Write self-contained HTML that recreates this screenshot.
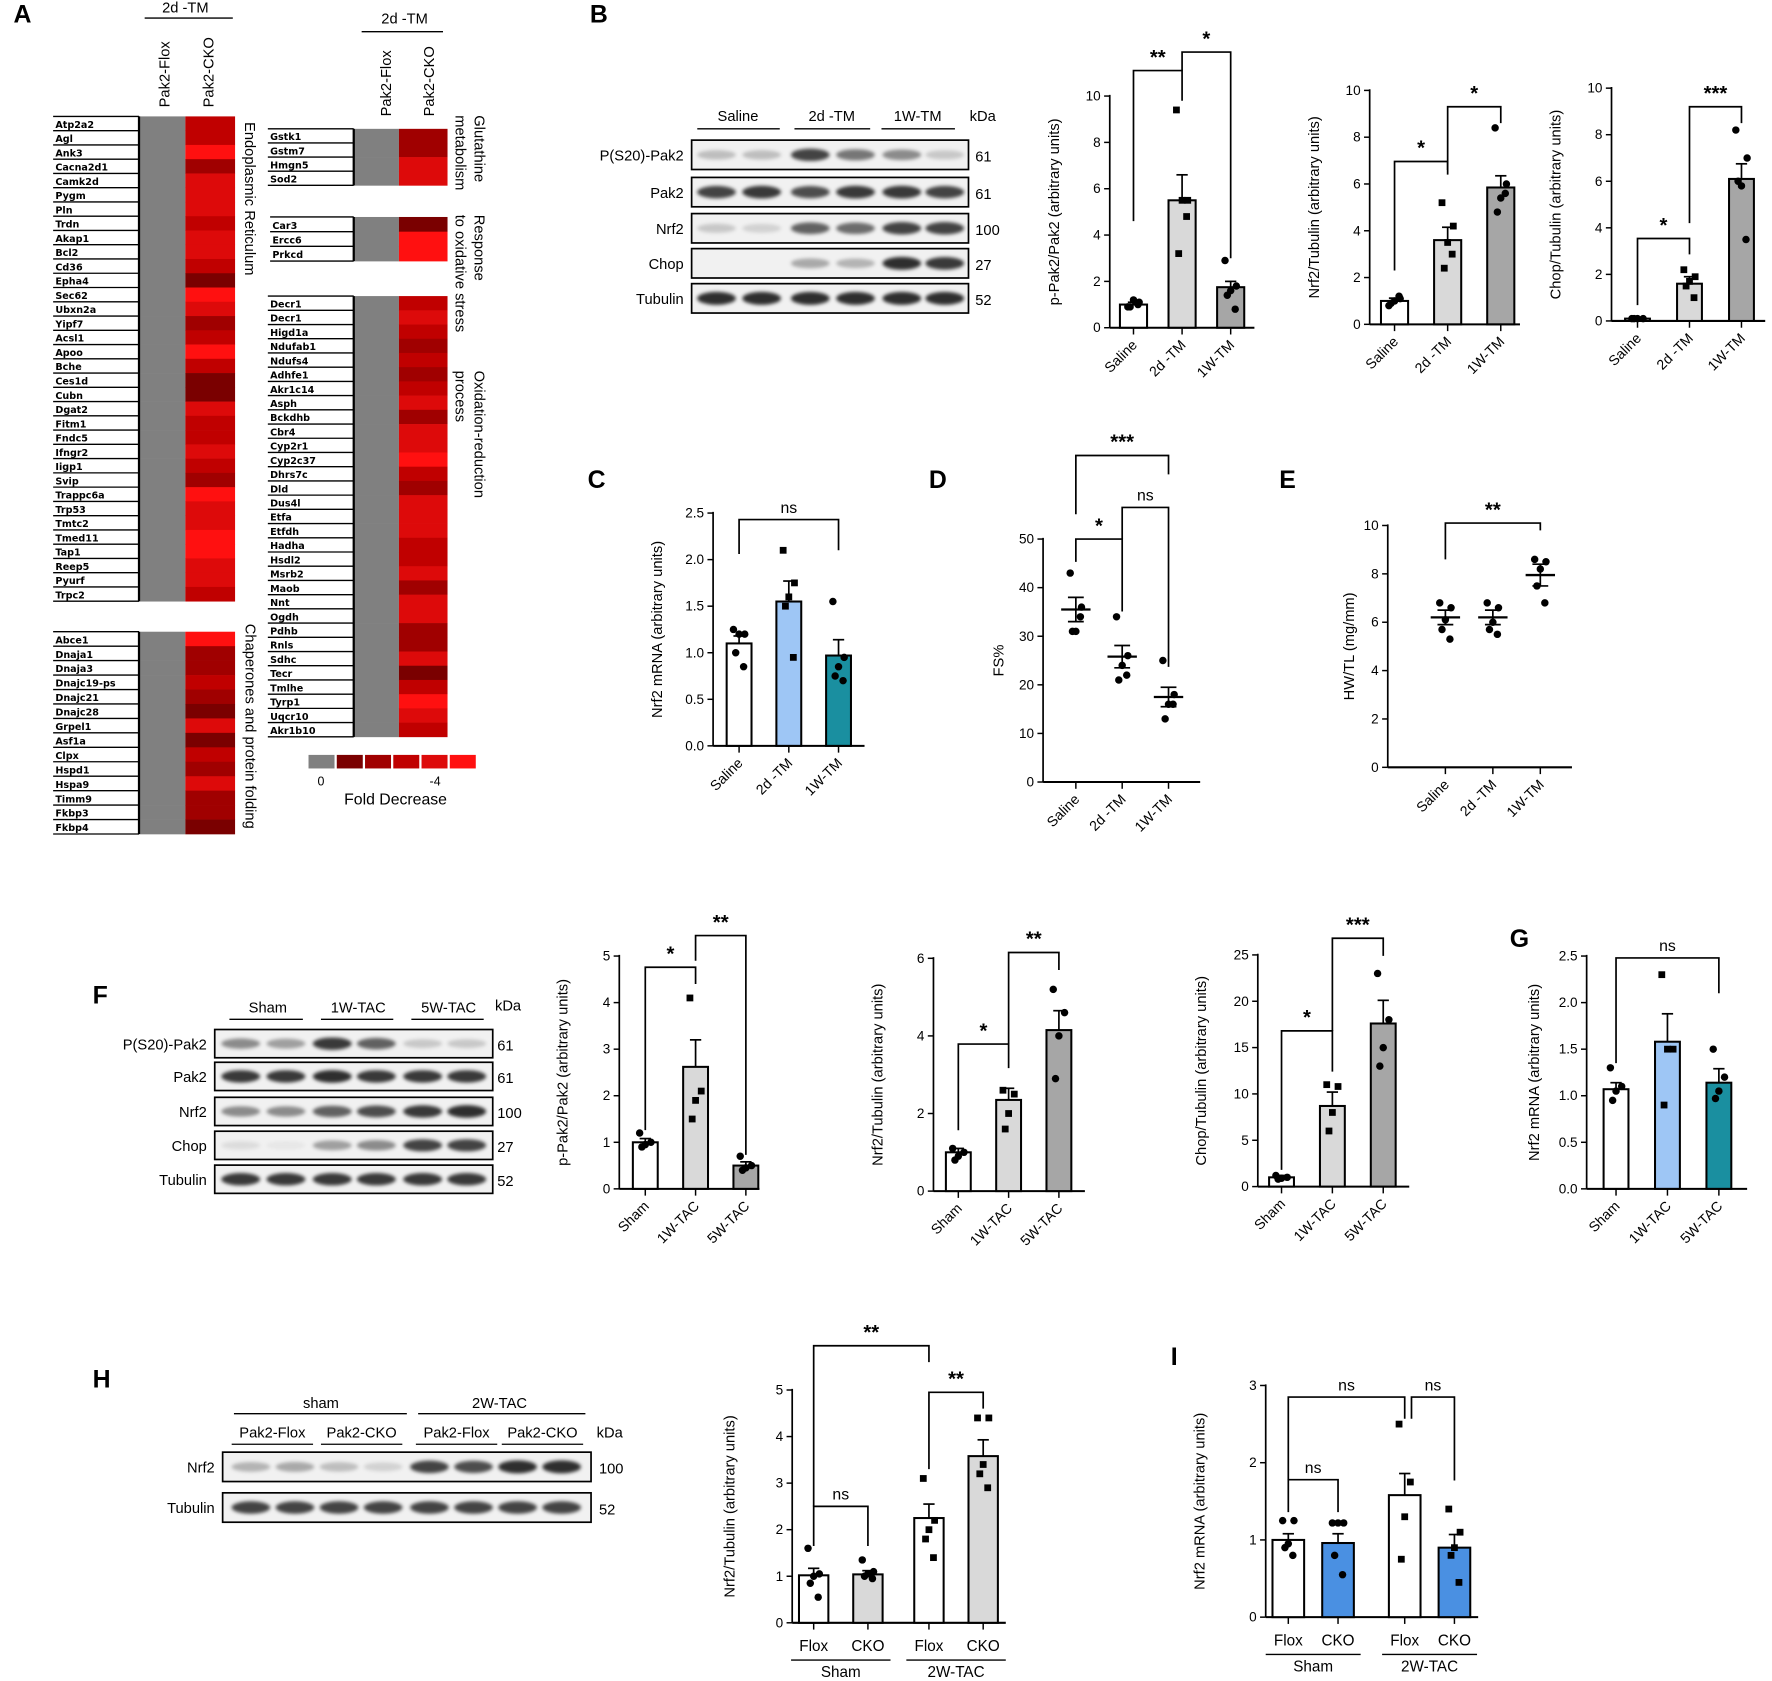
<!DOCTYPE html>
<html><head><meta charset="utf-8">
<style>
html,body{margin:0;padding:0;background:#fff;}
svg{display:block;font-family:"Liberation Sans",Arial,sans-serif;}
</style></head>
<body>
<svg id="fig" width="1772" height="1681" viewBox="0 0 1568 1487.5" xmlns="http://www.w3.org/2000/svg">
<defs><filter id="blur" x="-30%" y="-80%" width="160%" height="260%"><feGaussianBlur stdDeviation="1.6"/></filter></defs>
</svg>
<script>
// ---------- DATA ----------
const heatPalette = ['#7a0000','#a00000','#c00000','#dd0a0a','#ff1010'];
const erGenes = ['Atp2a2','Agl','Ank3','Cacna2d1','Camk2d','Pygm','Pln','Trdn','Akap1','Bcl2','Cd36','Epha4','Sec62','Ubxn2a','Yipf7','Acsl1','Apoo','Bche','Ces1d','Cubn','Dgat2','Fitm1','Fndc5','Ifngr2','Iigp1','Svip','Trappc6a','Trp53','Tmtc2','Tmed11','Tap1','Reep5','Pyurf','Trpc2'];
const erLevels = [2,2,4,1,3,3,3,2,3,3,2,0,4,3,1,2,4,2,0,0,3,2,2,3,2,1,4,3,3,4,4,3,3,2];
const chGenes = ['Abce1','Dnaja1','Dnaja3','Dnajc19-ps','Dnajc21','Dnajc28','Grpel1','Asf1a','Clpx','Hspd1','Hspa9','Timm9','Fkbp3','Fkbp4'];
const chLevels = [4,1,1,2,1,0,3,0,2,1,3,1,1,0];
const glGenes = ['Gstk1','Gstm7','Hmgn5','Sod2'];
const glLevels = [1,1,3,3];
const rsGenes = ['Car3','Ercc6','Prkcd'];
const rsLevels = [0,4,4];
const oxGenes = ['Decr1','Decr1','Higd1a','Ndufab1','Ndufs4','Adhfe1','Akr1c14','Asph','Bckdhb','Cbr4','Cyp2r1','Cyp2c37','Dhrs7c','Dld','Dus4l','Etfa','Etfdh','Hadha','Hsdl2','Msrb2','Maob','Nnt','Ogdh','Pdhb','Rnls','Sdhc','Tecr','Tmlhe','Tyrp1','Uqcr10','Akr1b10'];
const oxLevels = [2,3,2,1,2,1,2,3,1,3,3,4,2,1,3,3,3,2,2,3,1,3,3,1,1,3,0,2,4,3,2];

const tmCats = ['Saline','2d -TM','1W-TM'];
const tacCats = ['Sham','1W-TAC','5W-TAC'];
const hiCats = ['Flox','CKO','Flox','CKO'];
const hiGroups = ['Sham','2W-TAC'];

const b1Means = [1.0,5.5,1.75];
const b1Errs = [0.1,1.1,0.25];
const b1Pts = [[0.9,1.1,1.2,0.9,1.0],[9.4,5.5,5.5,3.2,4.8],[2.9,1.8,1.6,1.4,0.8]];
const b1Ticks = [0,2,4,6,8,10];
const b2Means = [1.0,3.6,5.85];
const b2Errs = [0.12,0.55,0.5];
const b2Pts = [[0.8,1.1,1.0,0.9,1.2],[5.2,4.2,3.5,2.4,3.0],[8.4,6.0,5.4,4.8,5.6]];
const b2Ticks = [0,2,4,6,8,10];
const b3Means = [0.1,1.6,6.1];
const b3Errs = [0.03,0.3,0.65];
const b3Pts = [[0.1,0.1,0.1,0.1],[2.2,1.9,1.7,1.5,1.0],[8.2,7.0,5.8,6.0,3.5]];
const b3Ticks = [0,2,4,6,8,10];
const cMeans = [1.1,1.55,0.97];
const cErrs = [0.08,0.22,0.17];
const cPts = [[1.25,1.2,1.2,1.0,0.85],[2.1,1.75,1.6,1.5,0.95],[1.55,0.95,0.85,0.75,0.7]];
const cTicks = [0,0.5,1.0,1.5,2.0,2.5];
const cTickLabels = ['0.0','0.5','1.0','1.5','2.0','2.5'];
const dMeans = [35.5,25.8,17.5];
const dErrs = [2.5,2.3,2.0];
const dPts = [[43,36,31,31,34],[34,26,24,21,22],[25,18,16,13,16]];
const dTicks = [0,10,20,30,40,50];
const eMeans = [6.2,6.2,7.95];
const eErrs = [0.3,0.3,0.45];
const ePts = [[6.8,6.6,6.1,5.7,5.3],[6.8,6.6,6.0,5.7,5.5],[8.6,8.5,8.2,7.5,6.8]];
const eTicks = [0,2,4,6,8,10];
const f1Means = [1.0,2.62,0.5];
const f1Errs = [0.08,0.58,0.08];
const f1Pts = [[1.2,1.0,0.95,0.9],[4.1,2.1,1.9,1.5],[0.7,0.5,0.45,0.4]];
const f1Ticks = [0,1,2,3,4,5];
const f2Means = [1.0,2.35,4.15];
const f2Errs = [0.1,0.3,0.5];
const f2Pts = [[1.1,1.0,0.9,0.8],[2.6,2.5,2.0,1.6],[5.2,4.6,4.0,2.9]];
const f2Ticks = [0,2,4,6];
const f3Means = [1.0,8.7,17.6];
const f3Errs = [0.2,1.5,2.5];
const f3Pts = [[1.2,1.0,0.9,0.8],[11,10.8,8,6],[23,18,15,13]];
const f3Ticks = [0,5,10,15,20,25];
const gMeans = [1.07,1.58,1.14];
const gErrs = [0.07,0.3,0.15];
const gPts = [[1.3,1.1,1.05,0.95],[2.3,1.5,1.5,0.9],[1.5,1.2,1.05,0.97]];
const gTicks = [0,0.5,1.0,1.5,2.0,2.5];
const gTickLabels = ['0.0','0.5','1.0','1.5','2.0','2.5'];
const hMeans = [1.02,1.04,2.25,3.58];
const hErrs = [0.15,0.08,0.3,0.35];
const hPts = [[1.6,1.05,1.0,0.85,0.55],[1.35,1.1,1.05,1.0,0.95],[3.1,2.2,2.0,1.8,1.4],[4.4,4.4,3.4,3.2,2.9]];
const hTicks = [0,1,2,3,4,5];
const iMeans = [1.0,0.96,1.58,0.9];
const iErrs = [0.08,0.12,0.28,0.17];
const iPts = [[1.25,1.25,0.95,0.9,0.8],[1.22,1.22,1.22,0.8,0.55],[2.5,1.75,1.3,0.75],[1.4,1.1,0.9,0.8,0.45]];
const iTicks = [0,1,2,3];

const bBlotRows = ['P(S20)-Pak2','Pak2','Nrf2','Chop','Tubulin'];
const bBlotKda = ['61','61','100','27','52'];
const bBlotInt = [[0.25,0.25,0.85,0.6,0.5,0.2],[0.85,0.9,0.8,0.9,0.9,0.85],[0.2,0.15,0.7,0.65,0.85,0.85],[0,0,0.35,0.3,0.95,0.9],[0.95,0.95,0.95,0.95,0.95,0.95]];
const fBlotRows = ['P(S20)-Pak2','Pak2','Nrf2','Chop','Tubulin'];
const fBlotKda = ['61','61','100','27','52'];
const fBlotInt = [[0.5,0.4,0.9,0.7,0.2,0.2],[0.9,0.9,0.95,0.9,0.9,0.9],[0.5,0.5,0.7,0.8,0.9,0.95],[0.1,0.05,0.4,0.5,0.85,0.85],[0.9,0.9,0.9,0.9,0.9,0.9]];
const hBlotRows = ['Nrf2','Tubulin'];
const hBlotKda = ['100','52'];
const hBlotInt = [[0.3,0.35,0.25,0.15,0.85,0.8,0.95,0.95],[0.85,0.85,0.85,0.85,0.85,0.85,0.85,0.85]];

// ---------- HELPERS ----------
const NS='http://www.w3.org/2000/svg';
const svg=document.getElementById('fig');
function mk(tag,parent,attrs){const e=document.createElementNS(NS,tag);if(attrs)for(const k in attrs)e.setAttribute(k,attrs[k]);(parent||svg).appendChild(e);return e;}
function txt(parent,x,y,s,size,anchor,extra){const t=mk('text',parent,Object.assign({x:x,y:y,'font-size':size,'text-anchor':anchor||'middle',fill:'#000'},extra||{}));t.textContent=s;return t;}
function line(parent,x1,y1,x2,y2,w){return mk('line',parent,{x1:x1,y1:y1,x2:x2,y2:y2,stroke:'#000','stroke-width':w||1.5});}

const letters=[['A',12,20],['B',522,20],['C',520,432],['D',822,432],['E',1132,432],['F',82,888],['G',1336,838],['H',82,1228],['I',1036,1208]];
letters.forEach(l=>{
 const t=txt(svg,l[1],l[2],l[0],22,'start',{'font-weight':'bold'});
 
 
});

function heatBlock(name,genes,levels,x,y0,y1,labW,colW){
 const g=mk('g');
 
 
 const h=(y1-y0)/genes.length;
 genes.forEach((gn,i)=>{
  const y=y0+i*h;
  mk('rect',g,{x:x+labW,y:y,width:colW,height:h+0.3,fill:'#808080'});
  const c=mk('rect',g,{x:x+labW+colW,y:y,width:colW+3,height:h+0.3,fill:heatPalette[levels[i]]});
  
  
  line(g,x,y+h,x+labW,y+h,1.2);
  const t=txt(g,x+2,y+h-2.5,gn,8.5,'start',{'font-weight':'bold','font-family':'"DejaVu Sans",sans-serif'});
  
  
 });
 line(g,x+labW,y0,x+labW,y1,2);
 line(g,x,y0,x+labW,y0,1.2);
}
heatBlock('heatmap-er',erGenes,erLevels,47,103,532,76,41);
heatBlock('heatmap-chaperones',chGenes,chLevels,47,559,738,76,41);
heatBlock('heatmap-glutathione',glGenes,glLevels,237,114,164,76,40);
heatBlock('heatmap-oxidative',rsGenes,rsLevels,239,192,231,74,40);
heatBlock('heatmap-oxred',oxGenes,oxLevels,237,262,652,76,40);

function vtext(x,y,s,size,name){
 const t=txt(svg,x,y,s,size,'start',{transform:'rotate(90 '+x+' '+y+')'});
 
 
}
function utext(x,y,s,size,name){
 const t=txt(svg,x,y,s,size,'start',{transform:'rotate(-90 '+x+' '+y+')'});
 
 
}
vtext(217,108,'Endoplasmic Reticulum',13,'er-label');
vtext(217,552,'Chaperones and protein folding',13,'chaperone-label');
vtext(420,102,'Glutathine',13,'glutathione-label');
vtext(403,102,'metabolism',13,'glutathione-label-2');
vtext(420,190,'Response',13,'oxidative-label');
vtext(403,190,'to oxidative stress',13,'oxidative-label-2');
vtext(420,328,'Oxidation-reduction',13,'oxred-label');
vtext(403,328,'process',13,'oxred-label-2');
txt(svg,164,11,'2d -TM',13);
line(svg,128,16,206,16,1.2);
txt(svg,358,21,'2d -TM',13);
line(svg,320,28,392,28,1.2);
utext(150,95,'Pak2-Flox',13,'col-header-flox');
utext(189,95,'Pak2-CKO',13,'col-header-cko');
utext(346,103,'Pak2-Flox',13,'col-header-flox-2');
utext(384,103,'Pak2-CKO',13,'col-header-cko-2');
const legCols=['#808080'].concat(heatPalette);
legCols.forEach((c,i)=>{
 const r=mk('rect',svg,{x:273+i*25,y:668,width:23,height:12,fill:c});
 
 
});
txt(svg,284,695,'0',11);
txt(svg,385,695,'-4',11);
const fd=txt(svg,350,712,'Fold Decrease',14);


function blot(name,x,w,rows,rowY,rowH,ints,lanes,labels,kda,kx,fs){
 const g=mk('g');
 
 
 rows.forEach((r,ri)=>{
  const y=rowY[ri];
  mk('rect',g,{x:x,y:y,width:w,height:rowH,fill:'#f1f1f1',stroke:'#000','stroke-width':1.5});
  ints[ri].forEach((v,li)=>{
   if(v<=0)return;
   const b=mk('ellipse',g,{cx:lanes[li],cy:y+rowH/2,rx:(w/lanes.length)*0.42,ry:rowH*0.14+v*2.2,fill:'#000','fill-opacity':v*0.85,filter:'url(#blur)'});
   
   
  });
  const t=txt(g,x-7,y+rowH/2+5,r,fs,'end');
  
  
  const k=txt(g,kx,y+rowH/2+6,kda[ri],fs,'start');
  
  
 });
}
blot('blot-b',612,245,bBlotRows,[124,157,189,220,251],26,bBlotInt,[634,674,717,757,798,836],null,bBlotKda,863,13);
txt(svg,653,107,'Saline',13);line(svg,617,114,690,114,1.2);
txt(svg,736,107,'2d -TM',13);line(svg,703,114,770,114,1.2);
txt(svg,812,107,'1W-TM',13);line(svg,780,114,845,114,1.2);
txt(svg,858,107,'kDa',13,'start');

blot('blot-f',190,246,fBlotRows,[911,940,971,1001,1031],25,fBlotInt,[213,253,294,333,374,413],null,fBlotKda,440,13);
txt(svg,237,896,'Sham',13);line(svg,203,902,268,902,1.2);
txt(svg,317,896,'1W-TAC',13);line(svg,284,902,348,902,1.2);
txt(svg,397,896,'5W-TAC',13);line(svg,364,902,428,902,1.2);
txt(svg,438,894,'kDa',13,'start');

blot('blot-h',197,326,hBlotRows,[1285,1321],26,hBlotInt,[222,261,300,339,380,419,458,497],null,hBlotKda,530,13);
txt(svg,284,1246,'sham',13);line(svg,207,1251,360,1251,1.2);
txt(svg,442,1246,'2W-TAC',13);line(svg,370,1251,518,1251,1.2);
[['Pak2-Flox',241],['Pak2-CKO',320],['Pak2-Flox',404],['Pak2-CKO',480]].forEach(p=>{
 txt(svg,p[1],1272,p[0],13);line(svg,p[1]-36,1278,p[1]+36,1278,1.2);
});
txt(svg,528,1272,'kDa',13,'start');

function chart(name,g,cats,means,errs,pts,fills,ticks,tickLabels,brackets,markers){
 const G=mk('g');
 
 
 const maxT=ticks[ticks.length-1];
 const sy=v=>g.base-v/maxT*(g.base-g.top);
 const sx=i=>g.x0+i*g.step+((g.gap&&i>=2)?g.gap:0);
 const ya=line(G,g.ax,g.base,g.ax,g.top-1,1.5);
 
 
 const xa=line(G,g.ax,g.base,g.xEnd,g.base,1.8);
 
 
 ticks.forEach((t,i)=>{
  line(G,g.ax-5,sy(t),g.ax,sy(t),1.3);
  const tl=txt(G,g.ax-8,sy(t)+4,tickLabels?tickLabels[i]:String(t),12,'end');
  
  
 });
 const yl=txt(G,g.ylx,(g.base+g.top)/2,g.ylabel,13,'middle',{transform:'rotate(-90 '+g.ylx+' '+(g.base+g.top)/2+')'});
 
 
 const jit=[-5,5,0,-3,4];
 cats.forEach((c,i)=>{
  const x=sx(i);
  line(G,x,g.base,x,g.base+6,1.3);
  if(g.scatter){
   const m=line(G,x-13,sy(means[i]),x+13,sy(means[i]),2);
   
   
   line(G,x,sy(means[i]-errs[i]),x,sy(means[i]+errs[i]),1.5);
   line(G,x-7,sy(means[i]+errs[i]),x+7,sy(means[i]+errs[i]),1.5);
   line(G,x-7,sy(means[i]-errs[i]),x+7,sy(means[i]-errs[i]),1.5);
  } else {
   const b=mk('rect',G,{x:x-g.barW/2,y:sy(means[i]),width:g.barW,height:g.base-sy(means[i]),fill:fills[i],stroke:'#000','stroke-width':1.8});
   
   
   line(G,x,sy(means[i]),x,sy(means[i]+errs[i]),1.5);
   line(G,x-5,sy(means[i]+errs[i]),x+5,sy(means[i]+errs[i]),1.5);
  }
  pts[i].forEach((v,k)=>{
   const px=x+jit[k%5]*(g.jit||1);
   const sq=markers?markers[i]==='s':(i===1);
   let p;
   if(sq){p=mk('rect',G,{x:px-3,y:sy(v)-3,width:6,height:6,fill:'#000'});}
   else{p=mk('circle',G,{cx:px,cy:sy(v),r:3.3,fill:'#000'});}
   
   
  });
  if(g.rot){
   const lx=x+4,ly=g.base+16;
   const t=txt(G,lx,ly,c,12.5,'end',{transform:'rotate(-45 '+lx+' '+ly+')'});
   
   
  } else {
   const t=txt(G,x,g.base+25,c,13.5,'middle');
   
   
  }
 });
 if(g.groups){
  g.groups.forEach((gn,k)=>{
   const xa=sx(2*k),xb=sx(2*k+1);
   line(G,xa-20,g.base+33,xb+20,g.base+33,1.2);
   const t=txt(G,(xa+xb)/2,g.base+48,gn,13.5,'middle');
   
   
  });
 }
 brackets.forEach(b=>{
  const xa=sx(b[0])+(b[6]||0),xb=sx(b[1]);
  const y=sy(b[2]);
  const p=mk('path',G,{d:'M'+xa+' '+sy(b[3])+' L'+xa+' '+y+' L'+xb+' '+y+' L'+xb+' '+sy(b[4]),fill:'none',stroke:'#000','stroke-width':1.5});
  
  
  const t=txt(G,(xa+xb)/2,y-6,b[5],b[5]==='ns'?14:18,'middle',{'font-weight':b[5]==='ns'?'normal':'bold'});
  
  
 });
}
const gFill3=['#ffffff','#d9d9d9','#a6a6a6'];
const cFill3=['#ffffff','#9ec6f5','#1a8fa0'];

chart('chart-b-ppak2',{ax:982,base:290,top:85,x0:1003,step:43,barW:24,xEnd:1110,ylx:937,ylabel:'p-Pak2/Pak2 (arbitrary units)',rot:true},
 tmCats,b1Means,b1Errs,b1Pts,gFill3,b1Ticks,null,[[0,1,11.1,4.6,9.8,'**'],[1,2,11.9,11.1,3.0,'*']]);
chart('chart-b-nrf2',{ax:1212,base:287,top:80,x0:1234,step:47,barW:24,xEnd:1345,ylx:1167,ylabel:'Nrf2/Tubulin (arbitrary units)',rot:true},
 tmCats,b2Means,b2Errs,b2Pts,gFill3,b2Ticks,null,[[0,1,6.96,2.3,6.4,'*'],[1,2,9.3,6.6,8.6,'*']]);
chart('chart-b-chop',{ax:1426,base:284,top:78,x0:1449,step:46,barW:22,xEnd:1562,ylx:1381,ylabel:'Chop/Tubulin (arbitrary units)',rot:true},
 tmCats,b3Means,b3Errs,b3Pts,gFill3,b3Ticks,null,[[0,1,3.54,0.68,2.86,'*'],[1,2,9.2,4.2,8.5,'***']]);
chart('chart-c-nrf2-mrna',{ax:631,base:660,top:454,x0:654,step:44,barW:22,xEnd:765,ylx:586,ylabel:'Nrf2 mRNA (arbitrary units)',rot:true},
 tmCats,cMeans,cErrs,cPts,cFill3,cTicks,cTickLabels,[[0,2,2.43,2.06,2.1,'ns']]);
chart('chart-d-fs',{ax:923,base:692,top:477,x0:952,step:41,xEnd:1062,ylx:888,ylabel:'FS%',rot:true,scatter:true},
 tmCats,dMeans,dErrs,dPts,null,dTicks,null,[[0,1,50,45.3,35.1,'*'],[1,2,56.5,50,23.7,'ns'],[0,2,67.2,55.1,63.3,'***']],['c','c','c']);
chart('chart-e-hwtl',{ax:1228,base:679,top:465,x0:1279,step:42,xEnd:1391,ylx:1198,ylabel:'HW/TL (mg/mm)',rot:true,scatter:true},
 tmCats,eMeans,eErrs,ePts,null,eTicks,null,[[0,2,10.1,8.6,9.8,'**']],['c','c','c']);
chart('chart-f-ppak2',{ax:548,base:1052,top:846,x0:571,step:44.5,barW:22,xEnd:672,ylx:502,ylabel:'p-Pak2/Pak2 (arbitrary units)',rot:true},
 tacCats,f1Means,f1Errs,f1Pts,gFill3,f1Ticks,null,[[0,1,4.76,1.26,4.4,'*'],[1,2,5.44,4.9,0.73,'**']]);
chart('chart-f-nrf2',{ax:826,base:1054,top:848,x0:848,step:44.5,barW:22,xEnd:960,ylx:781,ylabel:'Nrf2/Tubulin (arbitrary units)',rot:true},
 tacCats,f2Means,f2Errs,f2Pts,gFill3,f2Ticks,null,[[0,1,3.79,1.57,3.17,'*'],[1,2,6.15,3.79,5.7,'**']]);
chart('chart-f-chop',{ax:1113,base:1050,top:845,x0:1134,step:45,barW:22,xEnd:1247,ylx:1067,ylabel:'Chop/Tubulin (arbitrary units)',rot:true},
 tacCats,f3Means,f3Errs,f3Pts,gFill3,f3Ticks,null,[[0,1,16.8,1.8,12.4,'*'],[1,2,26.8,16.8,24.9,'***']]);
chart('chart-g-nrf2-mrna',{ax:1404,base:1052,top:846,x0:1430,step:45.5,barW:22,xEnd:1546,ylx:1362,ylabel:'Nrf2 mRNA (arbitrary units)',rot:true},
 tacCats,gMeans,gErrs,gPts,cFill3,gTicks,gTickLabels,[[0,2,2.48,1.35,2.1,'ns']]);
chart('chart-h-nrf2',{ax:701,base:1436,top:1230,x0:720,step:48,gap:6,barW:26,xEnd:890,ylx:650,ylabel:'Nrf2/Tubulin (arbitrary units)',groups:hiGroups},
 hiCats,hMeans,hErrs,hPts,['#ffffff','#d9d9d9','#ffffff','#d9d9d9'],hTicks,null,
 [[0,1,2.5,1.65,1.65,'ns'],[2,3,4.95,3.3,4.6,'**'],[0,2,5.95,2.5,5.6,'**']],['c','c','s','s']);
chart('chart-i-nrf2-mrna',{ax:1120,base:1431,top:1226,x0:1140,step:44,gap:15,barW:28,xEnd:1308,ylx:1066,ylabel:'Nrf2 mRNA (arbitrary units)',groups:hiGroups},
 hiCats,iMeans,iErrs,iPts,['#ffffff','#4a90e2','#ffffff','#4a90e2'],iTicks,null,
 [[0,1,1.78,1.36,1.36,'ns'],[0,2,2.85,1.78,2.57,'ns'],[2,3,2.85,2.57,1.77,'ns',6]],['c','c','s','s']);
</script>
</body></html>
